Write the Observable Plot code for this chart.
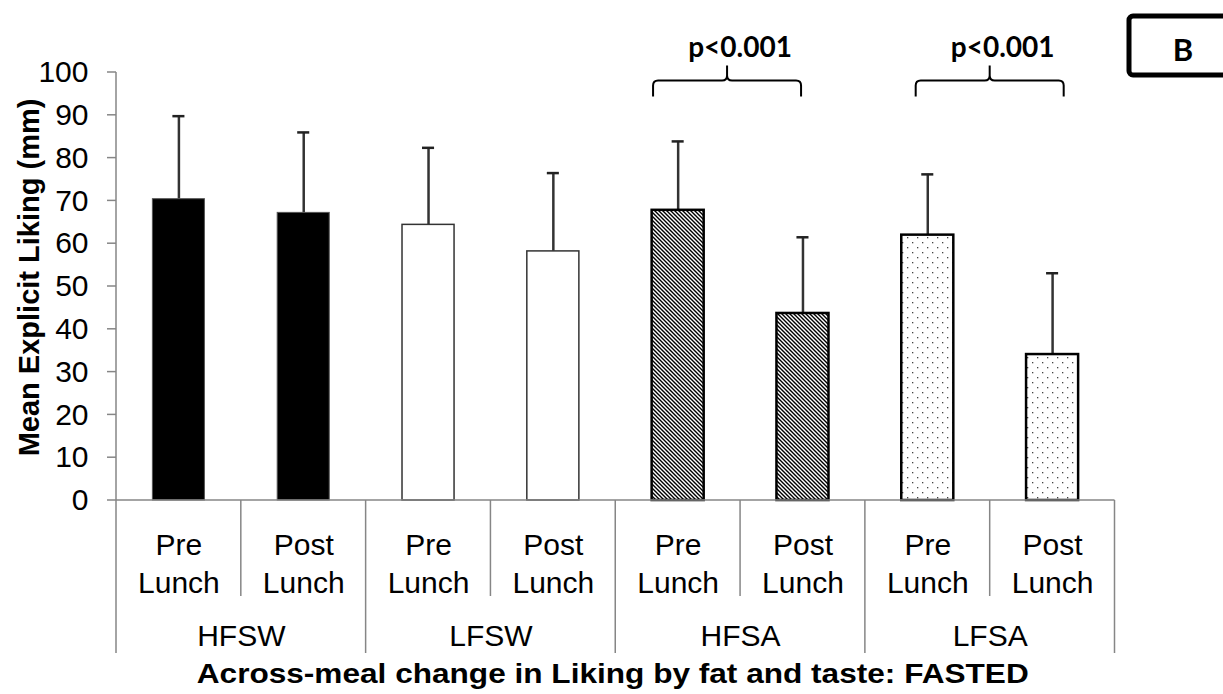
<!DOCTYPE html>
<html>
<head>
<meta charset="utf-8">
<script src="https://cdn.jsdelivr.net/npm/d3@7"></script>
<script src="https://cdn.jsdelivr.net/npm/@observablehq/plot@0.6"></script>
<style>
  html, body { margin: 0; padding: 0; background: #fff; }
  svg { display: block; }
</style>
</head>
<body>
<div id="chart"></div>
<script>
// ---------- data ----------
const groups = ["HFSW", "LFSW", "HFSA", "LFSA"];
const timepoints = ["Pre\nLunch", "Post\nLunch"];
const means = [70.4, 67.2, 64.4, 58.2, 67.8, 43.7, 62.0, 34.1];
const sds   = [19.4, 18.8, 18.0, 18.3, 16.1, 17.8, 14.2, 19.0];
const yTicks = [0, 10, 20, 30, 40, 50, 60, 70, 80, 90, 100];
const brackets = [
  { group: "HFSA", label: "p<0.001" },
  { group: "LFSA", label: "p<0.001" }
];
const panelLabel = "B";
const yTitle = "Mean Explicit Liking (mm)";
const xTitle = "Across-meal change in Liking by fat and taste: FASTED";

// ---------- styles ----------
const groupFill   = { HFSW: "black", LFSW: "white", HFSA: "url(#hatch)", LFSA: "url(#dots)" };
const groupStroke = { HFSW: "#555", LFSW: "#333", HFSA: "black", LFSA: "black" };
const groupStrokeW= { HFSW: 1, LFSW: 1.5, HFSA: 2.5, LFSA: 2.5 };
const bracketShift = [-13, 0];

const rows = groups.flatMap((g, gi) => timepoints.map((t, ti) => ({
  key: g + "|" + t,
  group: g,
  time: t,
  mean: means[gi * 2 + ti],
  sd: sds[gi * 2 + ti]
})));
const keys = rows.map(d => d.key);

const W = 1223, H = 694;
const mL = 116, mR = 108.5, mT = 72, mB = 194;
const step = (W - mL - mR) / keys.length;
const font = "'Liberation Sans', Arial, sans-serif";

const chart = Plot.plot({
  width: W, height: H,
  marginLeft: mL, marginRight: mR, marginTop: mT, marginBottom: mB,
  style: { fontFamily: font, background: "white", overflow: "visible" },
  x: { domain: keys, paddingInner: 0.583, paddingOuter: 0.2915, round: false, axis: null },
  y: { domain: [0, 100], axis: null },
  marks: [
    // error bars
    Plot.ruleX(rows, { x: "key", y1: "mean", y2: d => d.mean + d.sd, stroke: "#333", strokeWidth: 2.5 }),
    Plot.tickY(rows, { x: "key", y: d => d.mean + d.sd, stroke: "#222", strokeWidth: 2.5, insetLeft: 20, insetRight: 20 }),
    // bars, one mark per group style
    ...groups.map(g => Plot.barY(rows.filter(d => d.group === g), {
      x: "key", y: "mean",
      fill: groupFill[g], stroke: groupStroke[g], strokeWidth: groupStrokeW[g]
    })),
    // y tick labels
    Plot.text(yTicks, { y: d => d, text: d => String(d), frameAnchor: "left", textAnchor: "end", dx: -28, fontSize: 30, fill: "black" }),
    // y title
    Plot.text([yTitle], { text: d => d, frameAnchor: "left", textAnchor: "middle", dx: -87, dy: -9, rotate: -90, fontSize: 29, fontWeight: "bold", fill: "black" }),
    // category labels
    Plot.text(rows, { x: "key", text: "time", frameAnchor: "bottom", lineAnchor: "top", dy: 27, fontSize: 30, lineHeight: 1.27, fill: "black" }),
    // group labels
    Plot.text(groups, { x: g => g + "|" + timepoints[0], text: d => d, frameAnchor: "bottom", lineAnchor: "top", dx: step / 2, dy: 124, fontSize: 30, fill: "black" }),
    // x title
    Plot.text([xTitle], { text: d => d, frameAnchor: "bottom", lineAnchor: "top", dx: -3, dy: 163, fontSize: 28, fontWeight: "bold", fill: "black" })
  ]
});
document.getElementById("chart").append(chart);

// ---------- annotations & axis lines using Plot's scales ----------
const sx = chart.scale("x"), sy = chart.scale("y");
const xb = d3.scaleBand().domain(sx.domain).range(sx.range)
  .paddingInner(sx.paddingInner).paddingOuter(sx.paddingOuter).align(sx.align ?? 0.5);
const yl = d3.scaleLinear().domain(sy.domain).range(sy.range);
const svg = d3.select(chart);

// stretch the x title to the width it has in the reference
svg.selectAll("text").filter(function () { return this.textContent === xTitle; })
  .attr("textLength", 832).attr("lengthAdjust", "spacingAndGlyphs");

// patterns
const defs = svg.insert("defs", ":first-child");
const hatch = defs.append("pattern").attr("id", "hatch").attr("patternUnits", "userSpaceOnUse")
  .attr("width", 4).attr("height", 4);
hatch.append("rect").attr("width", 4).attr("height", 4).attr("fill", "white");
hatch.append("path").attr("d", "M-1,-1L5,5M-1,3L1,5M3,-1L5,1").attr("stroke", "black").attr("stroke-width", 1.4);
const dots = defs.append("pattern").attr("id", "dots").attr("patternUnits", "userSpaceOnUse")
  .attr("width", 10).attr("height", 10);
dots.append("rect").attr("width", 10).attr("height", 10).attr("fill", "white");
dots.append("rect").attr("x", 2).attr("y", 2).attr("width", 1.3).attr("height", 1.3).attr("fill", "#444");
dots.append("rect").attr("x", 7).attr("y", 7).attr("width", 1.3).attr("height", 1.3).attr("fill", "#444");

const g = svg.append("g").attr("fill", "none").attr("stroke", "#868686").attr("stroke-width", 1.5);
const xLeft = sx.range[0], xRight = sx.range[1];
const y0 = yl(0), yTop = yl(100);
// y axis line & ticks
g.append("line").attr("x1", xLeft).attr("x2", xLeft).attr("y1", yTop).attr("y2", y0);
yTicks.forEach(t => g.append("line").attr("x1", xLeft - 9).attr("x2", xLeft).attr("y1", yl(t)).attr("y2", yl(t)));
// x axis line
g.append("line").attr("x1", xLeft).attr("x2", xRight).attr("y1", y0).attr("y2", y0);
// dividers
const st = xb.step();
const firstEdge = xb(keys[0]) + xb.bandwidth() / 2 - st / 2;
for (let k = 0; k <= keys.length; k++) {
  const x = firstEdge + k * st;
  g.append("line").attr("x1", x).attr("x2", x).attr("y1", y0).attr("y2", y0 + (k % 2 === 0 ? 153 : 96));
}

// brackets
const bg = svg.append("g");
brackets.forEach((b, i) => {
  const cx = xb(b.group + "|" + timepoints[0]) + xb.bandwidth() / 2 + st / 2 + bracketShift[i];
  const x0 = cx - 74, x1 = cx + 74, yh = yl(98), yb = yh + 16, yp = yh - 15, r = 5;
  const d = `M${x0},${yb}L${x0},${yh + r}Q${x0},${yh} ${x0 + r},${yh}L${cx - r},${yh}Q${cx},${yh} ${cx},${yh - r}L${cx},${yp}` +
            `M${cx},${yh - r}Q${cx},${yh} ${cx + r},${yh}L${x1 - r},${yh}Q${x1},${yh} ${x1},${yh + r}L${x1},${yb}`;
  bg.append("path").attr("d", d).attr("fill", "none").attr("stroke", "black").attr("stroke-width", 2);
  bg.append("text").attr("x", cx + 13).attr("y", yh - 24).attr("text-anchor", "middle")
    .attr("font-family", "Lato, 'Open Sans', sans-serif").attr("font-weight", "bold").attr("font-size", 28)
    .attr("fill", "black").text(b.label);
});

// panel label box
svg.append("rect").attr("x", 1129).attr("y", 16).attr("width", 200).attr("height", 59).attr("rx", 4)
  .attr("fill", "white").attr("stroke", "black").attr("stroke-width", 5);
svg.append("text").attr("x", 1183).attr("y", 61).attr("text-anchor", "middle")
  .attr("font-family", "Lato, 'Open Sans', sans-serif").attr("font-weight", "bold").attr("font-size", 31)
  .attr("fill", "black").text(panelLabel);
</script>
</body>
</html>
